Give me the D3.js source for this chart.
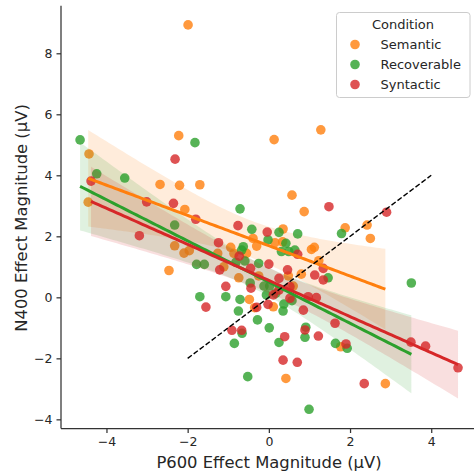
<!DOCTYPE html>
<html>
<head>
<meta charset="utf-8">
<script src="https://cdn.jsdelivr.net/npm/d3@7"></script>
<style>
body { margin: 0; background: #fff; }
text { font-family: "DejaVu Sans", sans-serif; fill: #262626; }
</style>
</head>
<body>
<svg id="chart" width="474" height="475"></svg>
<script>
// values (µV)
const conditions = ["Semantic", "Recoverable", "Syntactic"];
const colors = ["#ff7f0e", "#2ca02c", "#d62728"];

const semanticX = [-1.99, -4.43, -4.45, -2.22, -2.68, -2.20, -1.70, -2.07, 0.13, 1.28, 0.57, 0.87, 2.42, 1.88,
    -0.39, -0.30, -0.94, -2.32, -2.09, -1.96, -1.26, -0.86, -0.55, -2.46, -1.11, -0.74, -0.25, -0.48, -0.35,
    2.50, 0.35, 0.15, 0.34, 1.05, 1.12, 1.23, 0.80, 0.48, 0.60, 0.11, 1.77, 0.42, 2.87];
const semanticY = [8.93, 4.70, 3.12, 5.30, 3.70, 3.67, 3.69, 2.88, 5.17, 5.49, 3.35, 2.81, 2.37, 2.28,
    1.93, 1.68, 1.64, 1.69, 1.45, 1.53, 1.44, 1.44, 1.44, 0.88, 1.00, 0.64, 0.70, -0.07, -0.34,
    1.93, 2.24, 1.79, 1.82, 1.57, 1.64, 1.20, 0.76, 0.70, 0.37, -0.31, -1.62, -2.66, -2.83];

const recoverableX = [-4.65, -4.24, -3.55, -1.82, -0.71, -0.42, -2.32, -0.02, -0.63, -0.67, -1.78, -1.59, -0.81,
    -0.59, -0.25, -0.46, -0.12, -1.70, -1.06, -0.71, -0.75, -0.06, -0.28, 0.01, -0.66, -0.85, -0.52, 1.79,
    0.25, 0.71, 0.42, 0.31, 0.49, 0.64, 1.46, 0.02, 0.17, 0.57, 0.37, 0.35, 0.91, 0.89, 0.25, 1.64, 1.93,
    0.99, 3.51];
const recoverableY = [5.16, 4.05, 3.91, 5.07, 2.90, 2.23, 2.37, 1.88, 1.66, 1.55, 1.08, 1.08, 1.15,
    1.19, 1.11, 0.47, 0.37, 0.02, 0.02, -0.07, -0.45, 0.08, -0.74, -1.00, -1.18, -1.51, -2.60, 2.09,
    2.13, 2.08, 1.77, 1.50, 1.50, 1.55, 0.64, 0.37, 0.13, -0.11, -0.22, -0.45, -0.98, -1.31, -1.48, -1.51, -1.67,
    -3.67, 0.47];

const syntacticX = [-4.38, -2.31, -3.01, -2.35, -1.80, -0.76, 1.48, 2.90, -3.19, -0.04, -1.24, -0.73, -1.21,
    -0.45, -0.44, -1.06, -1.55, -0.30, -0.02, -0.91, -0.67, 0.71, 0.00, 1.34, 1.13, 1.34, 0.46, 0.25, 0.52,
    0.25, 0.11, 0.52, 0.97, 1.17, 0.85, 1.63, 0.89, 0.39, 1.22, 1.90, 0.35, 0.70, 2.35, 3.50, 3.86, 4.66];
const syntacticY = [3.81, 4.53, 3.13, 3.08, 2.56, 2.35, 2.97, 2.79, 2.02, 2.14, 1.79, 1.35, 0.90,
    0.95, 0.30, 0.36, -0.32, -0.33, -0.23, -1.08, -1.08, 1.41, 1.09, 0.95, 0.73, 0.57, 0.90, 0.62, 0.35,
    0.24, 0.08, -0.03, 0.02, -0.01, -0.42, -0.85, -1.07, -1.29, -1.27, -1.53, -2.06, -2.13, -2.83, -1.47, -1.60, -2.31];

const identityLine = [-2, 4];
const xTicks = [-4, -2, 0, 2, 4];
const yTicks = [-4, -2, 0, 2, 4, 6, 8];

const series = [
    { name: conditions[0], color: colors[0], x: semanticX, y: semanticY },
    { name: conditions[1], color: colors[1], x: recoverableX, y: recoverableY },
    { name: conditions[2], color: colors[2], x: syntacticX, y: syntacticY }
];

const svg = d3.select("#chart");

const x = d3.scaleLinear().domain([-5.12, 5.12]).range([61, 476.7]);
const y = d3.scaleLinear().domain([-4.30, 9.56]).range([428.5, 5.7]);

// ordinary least squares with a 95% band for the mean
function fit(xs, ys) {
    const n = xs.length;
    const mx = d3.mean(xs), my = d3.mean(ys);
    let sxx = 0, sxy = 0;
    xs.forEach((v, i) => { sxx += (v - mx) ** 2; sxy += (v - mx) * (ys[i] - my); });
    const b = sxy / sxx, a = my - b * mx;
    const sse = d3.sum(xs, (v, i) => (ys[i] - a - b * v) ** 2);
    const s = Math.sqrt(sse / (n - 2));
    const t = 2.02;
    const [lo, hi] = d3.extent(xs);
    return d3.range(101).map(i => {
        const xv = lo + (hi - lo) * i / 100;
        const yhat = a + b * xv;
        const se = s * Math.sqrt(1 / n + (xv - mx) ** 2 / sxx);
        return { x: xv, y: yhat, lo: yhat - t * se, hi: yhat + t * se };
    });
}

const area = d3.area().x(d => x(d.x)).y0(d => y(d.lo)).y1(d => y(d.hi));
const line = d3.line().x(d => x(d.x)).y(d => y(d.y));

const plot = svg.append("g");

series.forEach(s => {
    s.fit = fit(s.x, s.y);
    plot.append("g")
        .selectAll("circle")
        .data(s.x.map((v, i) => [v, s.y[i]]))
        .enter().append("circle")
        .attr("cx", d => x(d[0]))
        .attr("cy", d => y(d[1]))
        .attr("r", 4.8)
        .attr("fill", s.color)
        .attr("fill-opacity", 0.8);

    plot.append("path")
        .datum(s.fit)
        .attr("d", area)
        .attr("fill", s.color)
        .attr("fill-opacity", 0.15);
});

series.forEach(s => {
    plot.append("path")
        .datum(s.fit)
        .attr("d", line)
        .attr("fill", "none")
        .attr("stroke", s.color)
        .attr("stroke-width", 3);
});

plot.append("line")
    .attr("x1", x(identityLine[0])).attr("y1", y(identityLine[0]))
    .attr("x2", x(identityLine[1])).attr("y2", y(identityLine[1]))
    .attr("stroke", "#000")
    .attr("stroke-width", 1.4)
    .attr("stroke-dasharray", "5.2,2.3");

// axes
const xAxis = svg.append("g")
    .attr("transform", "translate(0," + 428.5 + ")")
    .call(d3.axisBottom(x).tickValues(xTicks).tickSize(4.5).tickPadding(4).tickSizeOuter(0));
const yAxis = svg.append("g")
    .attr("transform", "translate(" + 61 + ",0)")
    .call(d3.axisLeft(y).tickValues(yTicks).tickSize(4.5).tickPadding(4).tickSizeOuter(0));

[xAxis, yAxis].forEach(g => {
    g.select(".domain").attr("stroke", "#333").attr("stroke-width", 1.25);
    g.selectAll(".tick line").attr("stroke", "#333").attr("stroke-width", 1.25);
    g.selectAll(".tick text").attr("font-size", 12.5).attr("fill", "#262626")
        .style("font-family", "'DejaVu Sans', sans-serif");
});
yAxis.select(".domain").attr("d", "M0," + 428.5 + "V" + 5.7);
xAxis.select(".domain").attr("d", "M61,0H" + 476.7);

svg.append("text")
    .attr("x", 269).attr("y", 468)
    .attr("text-anchor", "middle")
    .attr("font-size", 16.4)
    .text("P600 Effect Magnitude (μV)");

svg.append("text")
    .attr("transform", "translate(27,218) rotate(-90)")
    .attr("text-anchor", "middle")
    .attr("font-size", 16.4)
    .text("N400 Effect Magnitude (μV)");

// legend
const legend = svg.append("g");
legend.append("rect")
    .attr("x", 336.5).attr("y", 12.5)
    .attr("width", 133.5).attr("height", 85)
    .attr("rx", 3)
    .attr("fill", "#fff").attr("fill-opacity", 0.8)
    .attr("stroke", "#cccccc").attr("stroke-width", 1);
legend.append("text")
    .attr("x", 403).attr("y", 29)
    .attr("text-anchor", "middle")
    .attr("font-size", 13)
    .text("Condition");
series.forEach((s, i) => {
    legend.append("circle")
        .attr("cx", 355).attr("cy", 44.5 + i * 20)
        .attr("r", 4.8)
        .attr("fill", s.color).attr("fill-opacity", 0.8);
    legend.append("text")
        .attr("x", 380.5).attr("y", 49 + i * 20)
        .attr("font-size", 13)
        .text(s.name);
});
</script>
</body>
</html>
